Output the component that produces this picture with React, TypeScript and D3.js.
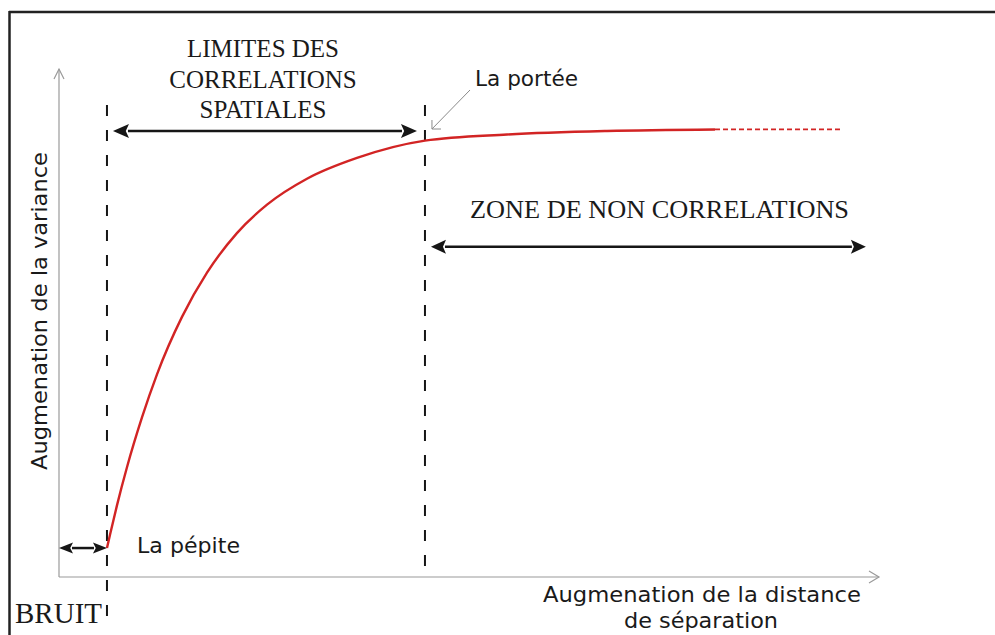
import React from "react";
import * as d3 from "d3";

// Semivariogram curve (distance units 0..100, variance units 0..100)
const distance = [5.85, 6.22, 7.07, 8.29, 10.12, 11.95, 15.0, 18.05, 21.7, 25.37, 30.24, 36.34, 44.63, 54.63, 66.83, 80.0];
const variance = [5.7, 8.3, 14.1, 21.6, 31.4, 39.9, 51.2, 59.9, 67.7, 73.3, 78.4, 82.5, 85.9, 87.1, 87.8, 88.1];
// dashed continuation of the sill
const plateauDistance = [80.0, 95.4];
const plateauVariance = [88.1, 88.1];

const nuggetDistance = 5.85; // "La pépite"
const rangeDistance = 44.63; // "La portée"
const nuggetVariance = 5.7;
const zoneEndDistance = 98.4;
const zoneArrowVariance = 65.0;
const limitsArrowVariance = 87.8;
const guideTopVariance = 92.9;

const titleLines = ["LIMITES DES", "CORRELATIONS", "SPATIALES"];
const zoneLabel = "ZONE DE NON CORRELATIONS";
const yLabel = "Augmenation de la variance";
const xLabelLines = ["Augmenation de la distance", "de séparation"];
const nuggetLabel = "La pépite";
const rangeLabel = "La portée";
const noiseLabel = "BRUIT";

const W = 995;
const H = 635;

const x = d3.scaleLinear().domain([0, 100]).range([59, 879]);
const y = d3.scaleLinear().domain([0, 100]).range([577, 69]);

const SERIF = "'Liberation Serif', 'Times New Roman', serif";
const SANS = "'DejaVu Sans', 'Noto Sans', sans-serif";

function DoubleArrow({ x1, x2, yy, len, hw, sw, left = true, right = true }: any) {
  const lx = left ? x1 + len - 1 : x1;
  const rx = right ? x2 - len + 1 : x2;
  return (
    <g fill="#161616" stroke="none">
      <line x1={lx} x2={rx} y1={yy} y2={yy} stroke="#161616" strokeWidth={sw} />
      {left && <polygon points={`${x1},${yy} ${x1 + len},${yy - hw} ${x1 + len * 0.8},${yy} ${x1 + len},${yy + hw}`} />}
      {right && <polygon points={`${x2},${yy} ${x2 - len},${yy - hw} ${x2 - len * 0.8},${yy} ${x2 - len},${yy + hw}`} />}
    </g>
  );
}

export default function App() {
  const curvePts = distance.map((d, i) => [x(d), y(variance[i])] as [number, number]);
  const plateauPts = plateauDistance.map((d, i) => [x(d), y(plateauVariance[i])] as [number, number]);
  const line = d3.line().curve(d3.curveMonotoneX);
  const lineStraight = d3.line();

  const xN = x(nuggetDistance);
  const xR = x(rangeDistance);
  const yTop = y(guideTopVariance);
  const y0 = y(0);

  return (
    <svg width={W} height={H} viewBox={`0 0 ${W} ${H}`} style={{ position: "absolute", left: 0, top: 0, background: "#fff" }}>
      {/* frame */}
      <line x1={9} x2={W} y1={12} y2={12} stroke="#222" strokeWidth={2.5} />
      <line x1={9.5} x2={9.5} y1={11} y2={H} stroke="#222" strokeWidth={2.5} />

      {/* axes */}
      <g stroke="#9a9a9a" strokeWidth={1.2} fill="none">
        <line x1={x(0)} x2={x(0)} y1={y0} y2={y(100)} />
        <polyline points={`${x(0) - 5},${y(100) + 10} ${x(0)},${y(100)} ${x(0) + 5},${y(100) + 10}`} />
        <line x1={x(0)} x2={x(100)} y1={y0} y2={y0} />
        <polyline points={`${x(100) - 10},${y0 - 6} ${x(100)},${y0} ${x(100) - 10},${y0 + 6}`} />
      </g>

      {/* vertical dashed guides */}
      <g stroke="#161616" strokeWidth={2} strokeDasharray="11 14">
        <line x1={xN} x2={xN} y1={yTop} y2={616} />
        <line x1={xR} x2={xR} y1={yTop} y2={y0} />
      </g>

      {/* curve */}
      <path d={line(curvePts) || ""} fill="none" stroke="#d22424" strokeWidth={2.4} />
      <path d={lineStraight(plateauPts) || ""} fill="none" stroke="#d22424" strokeWidth={1.8} strokeDasharray="5 3" />

      {/* arrows */}
      <DoubleArrow x1={x(0)} x2={xN} yy={y(nuggetVariance)} len={14} hw={5.5} sw={2.5} />
      <DoubleArrow x1={xN + 6} x2={xR - 8} yy={y(limitsArrowVariance)} len={16} hw={7} sw={2.5} />
      <DoubleArrow x1={xR + 6} x2={x(zoneEndDistance)} yy={y(zoneArrowVariance)} len={15} hw={7} sw={2.5} />

      {/* portée pointer */}
      <g stroke="#8a8a8a" strokeWidth={1} fill="none">
        <line x1={470} y1={90} x2={xR + 7} y2={129} />
        <polyline points={`${xR + 7},${120} ${xR + 7},${129} ${xR + 16},${129}`} />
      </g>

      {/* serif labels */}
      <g fontFamily={SERIF} fill="#1a1a1a" textAnchor="middle" fontSize={25}>
        {titleLines.map((t, i) => (
          <text key={t} x={263} y={57 + i * 30.5}>{t}</text>
        ))}
        <text x={659.5} y={218} textLength={379} lengthAdjust="spacingAndGlyphs">{zoneLabel}</text>
      </g>
      <text x={15} y={623} fontFamily={SERIF} fontSize={29} fill="#1a1a1a" textLength={87} lengthAdjust="spacingAndGlyphs">{noiseLabel}</text>

      {/* sans labels */}
      <g fontFamily={SANS} fill="#1a1a1a" fontSize={21.5}>
        <text x={475} y={86} textLength={103} lengthAdjust="spacingAndGlyphs">{rangeLabel}</text>
        <text x={137} y={553} textLength={103} lengthAdjust="spacingAndGlyphs">{nuggetLabel}</text>
        <text transform="translate(47,311) rotate(-90)" textAnchor="middle" textLength={318} lengthAdjust="spacingAndGlyphs">{yLabel}</text>
        <text x={702} y={602} textAnchor="middle" textLength={318} lengthAdjust="spacingAndGlyphs">{xLabelLines[0]}</text>
        <text x={701} y={628} textAnchor="middle" fontSize={21} textLength={154} lengthAdjust="spacingAndGlyphs">{xLabelLines[1]}</text>
      </g>
    </svg>
  );
}
